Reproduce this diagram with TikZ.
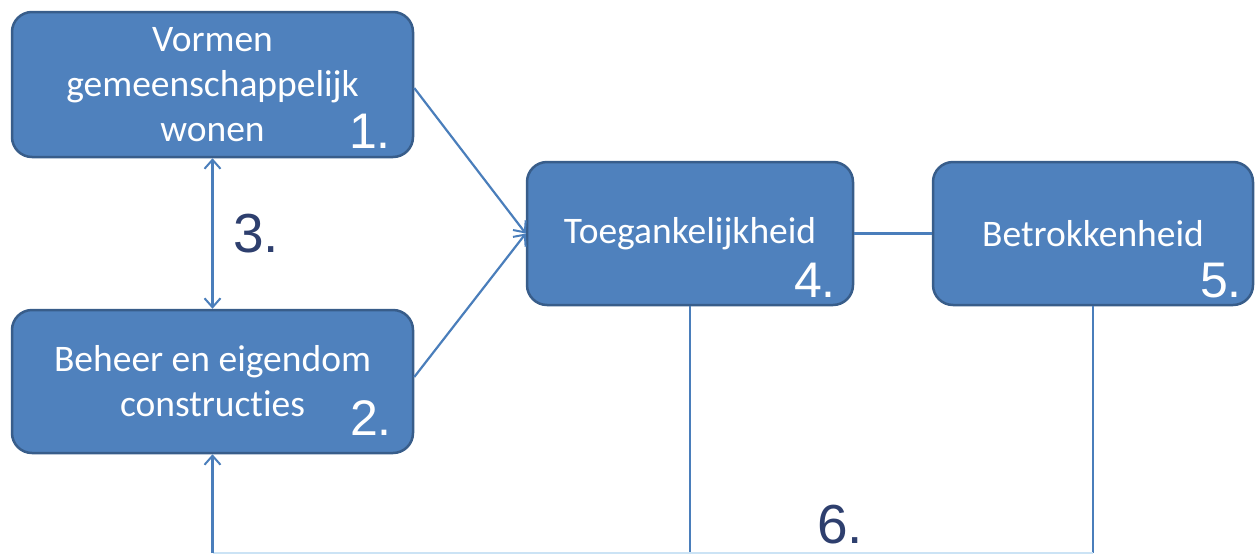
\documentclass[tikz,border=0pt]{standalone}
\usepackage{fontspec}
\setmainfont{Carlito}[RawFeature={-liga}]
\newfontfamily\numfont{Liberation Sans}
\usetikzlibrary{arrows.meta}
\definecolor{boxfill}{HTML}{4F81BD}
\definecolor{boxline}{HTML}{385D8A}
\definecolor{arrowc}{HTML}{4A7EBB}
\definecolor{labelc}{HTML}{2E3F6E}
\definecolor{faintline}{HTML}{CBE3F5}
\tikzset{
  boxnode/.style={draw=boxline, line width=2.5pt, fill=boxfill, rounded corners=20pt,
    text=white, align=center, font=\fontsize{37.5}{45}\selectfont, inner sep=0pt},
  numlabel/.style={text=white, font=\numfont\fontsize{50}{50}\selectfont, inner sep=0pt, anchor=base east},
  biglabel/.style={text=labelc, font=\numfont\fontsize{55}{55}\selectfont, inner sep=0pt, anchor=base},
  conn/.style={draw=arrowc, line width=2.2pt},
  tip/.style={-{Straight Barb[length=9pt,width=16pt,line width=2pt]}},
}
\begin{document}
\begin{tikzpicture}[x=1pt,y=-1pt]
\useasboundingbox (0,0) rectangle (1258,555);
\node[boxnode, minimum width=401pt, minimum height=145pt] (n1) at (212.5,84.5) {Vormen\\gemeenschappelijk\\wonen};
\node[boxnode, minimum width=401pt, minimum height=143pt] (n2) at (212.5,381.5) {Beheer en eigendom\\constructies};
\node[boxnode, minimum width=326pt, minimum height=143pt] (n4) at (690,233.5) {Toegankelijkheid};
\node[boxnode, minimum width=320pt, minimum height=143pt] (n5) at (1093,233.5) {Betrokkenheid};
\node[numlabel] (l1) at (391,148) {1.};
\node[numlabel] (l2) at (392,435) {2.};
\node[numlabel] (l4) at (836,297) {4.};
\node[numlabel] (l5) at (1242,297) {5.};
\node[biglabel] (l3) at (256,252) {3.};
\node[biglabel] (l6) at (840,543) {6.};
\coordinate (bot) at (0,553);
\coordinate (s1) at (n1.east |- 0,88);
\coordinate (s2) at (n2.east |- 0,377);
\draw[conn, tip] (s1) -- (n4.west);
\draw[conn, tip] (s2) -- (n4.west);
\draw[conn, {Straight Barb[length=9pt,width=16pt,line width=2pt]}-{Straight Barb[length=9pt,width=16pt,line width=2pt]}] (n1.south) -- (n2.north);
\draw[conn] (n4.east) -- (n5.west);
\draw[conn] (n4.south) -- (n4.south |- bot);
\draw[conn] (n5.south) -- (n5.south |- bot);
\draw[faintline, line width=2pt] (n2.south |- bot) -- (n5.south |- bot);
\draw[conn, tip] (n2.south |- bot) -- (n2.south);
\end{tikzpicture}
\end{document}
